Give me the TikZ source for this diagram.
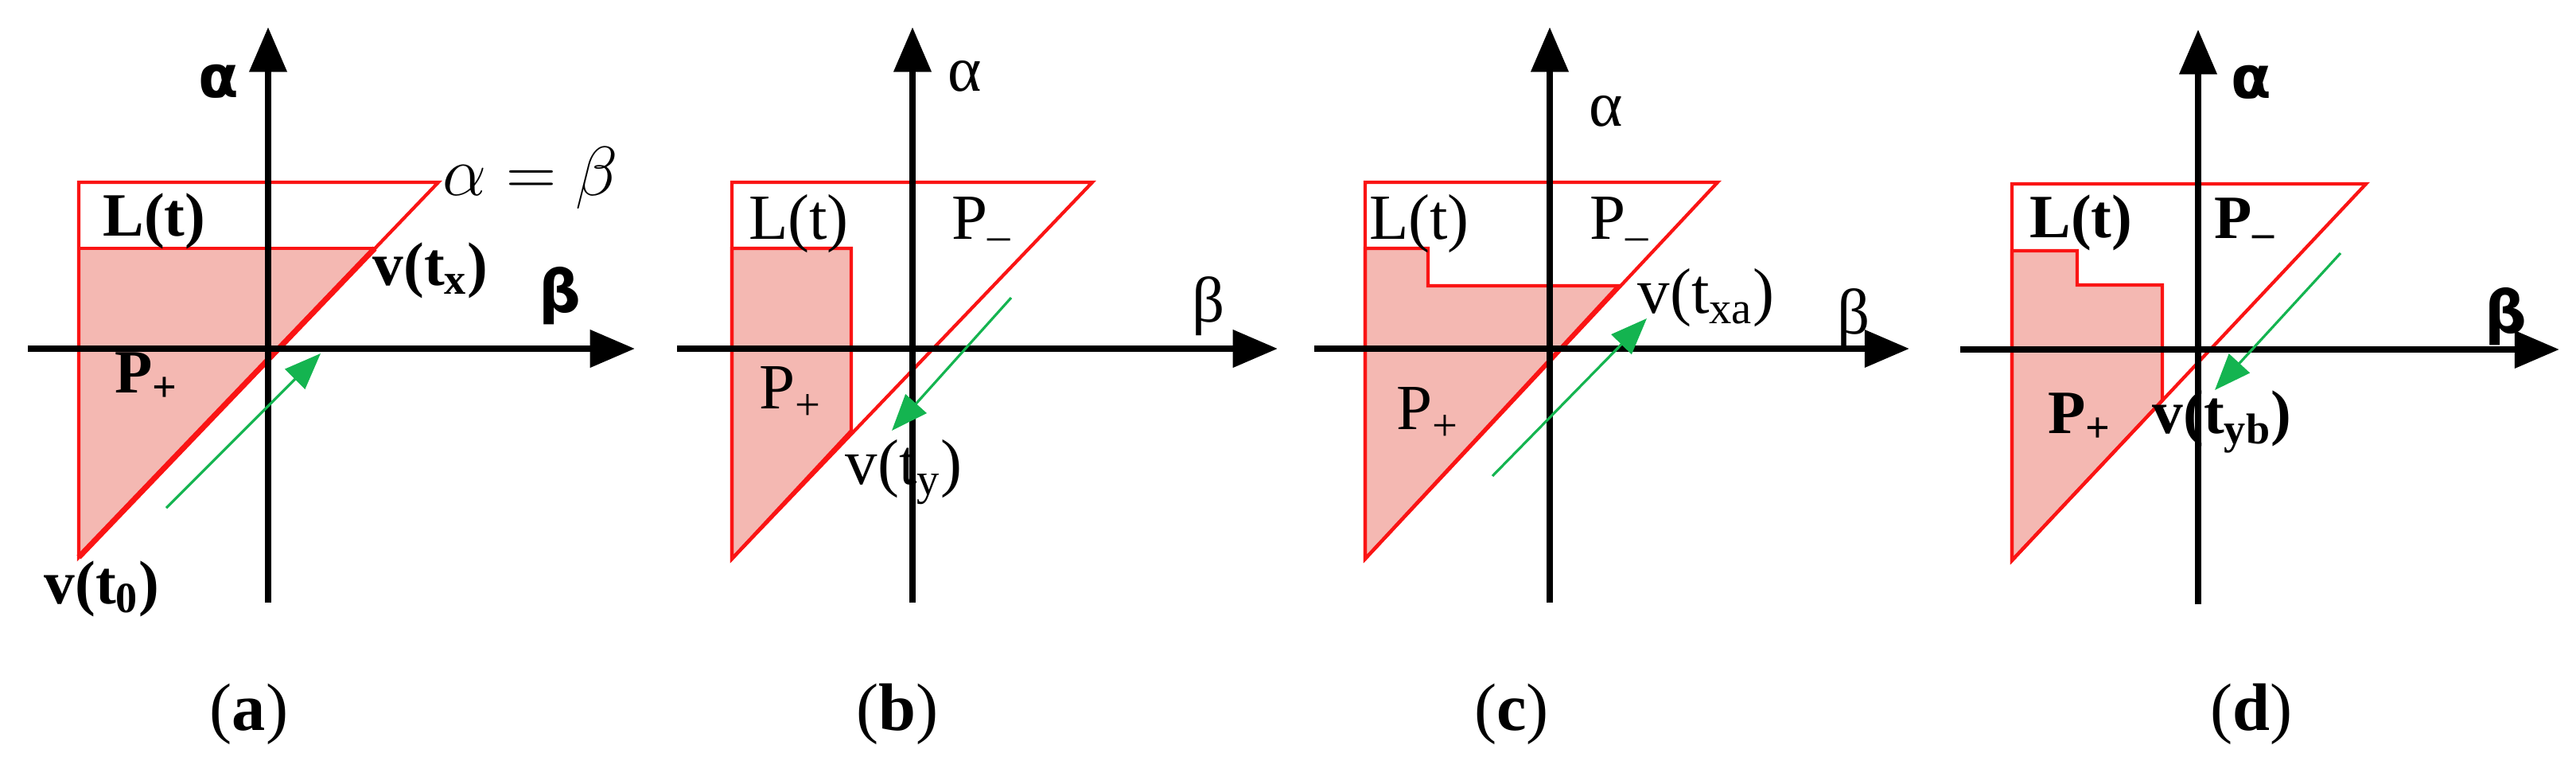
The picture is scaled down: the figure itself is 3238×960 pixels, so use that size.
\documentclass[tikz,border=0pt]{standalone}
\usepackage{fontspec}
\setmainfont{Liberation Serif}
\newfontfamily\greekf{DejaVu Sans}
\usetikzlibrary{arrows.meta}
\definecolor{pfill}{RGB}{244,184,178}
\definecolor{pred}{RGB}{250,20,20}
\definecolor{pgreen}{RGB}{20,180,80}
\tikzset{
  axis/.style={line width=2.3pt,-{Triangle[length=16pt,width=13pt]}},
  region/.style={draw=pred,line width=1.2pt,line join=miter},
  shaded/.style={fill=pfill,draw=pred,line width=1.2pt},
  move/.style={draw=pgreen,line width=0.9pt,-{Triangle[length=13pt,width=10pt]}},
  lab/.style={font=\fontsize{22}{24}\selectfont\bfseries,inner sep=0pt},
  labn/.style={font=\fontsize{23}{24}\selectfont,inner sep=0pt},
  glab/.style={font=\fontsize{21}{24}\selectfont\greekf\bfseries,inner sep=0pt},
  captext/.style={font=\fontsize{24}{26}\selectfont,inner sep=0pt}
}
\begin{document}
\begin{tikzpicture}[x=0.01cm,y=-0.01cm]
\useasboundingbox (0,0) rectangle (3238,960);
% ---------- (a)
\fill[pfill] (99,312) -- (471,312) -- (99,700) -- cycle;
\draw[region] (99,229) -- (551,229) -- (99,700) -- cycle;
\draw[region] (99,312) -- (471,312);
\draw[draw=pred,line width=2pt] (99,700) -- (471,312);
\coordinate (a0) at (35,438); \coordinate (a1) at (798,438);
\coordinate (a2) at (337,757); \coordinate (a3) at (337,34);
\draw[axis] (a0) -- (a1);
\draw[axis] (a2) -- (a3);
\coordinate (ga0) at (209,638); \coordinate (ga1) at (403,444);
\draw[move] (ga0) -- (ga1);
\node[glab] (aal) at (275,102) {α};
\node[font=\fontsize{24}{26}\selectfont,inner sep=0pt,anchor=west] (aeq) at (556,224) {$\alpha=\beta$};
\node[lab] (aL) at (194,278) {L(t)};
\node[lab,anchor=west] (avx) at (468,340) {v(t\textsubscript{x})};
\node[glab] (abe) at (704,372) {β};
\node[lab] (aP) at (184,474) {P\textsubscript{+}};
\node[lab] (av0) at (128,740) {v(t\textsubscript{0})};
\node[captext] (ca) at (313,897) {(\textbf{a})};
% ---------- (b)
\draw[shaded] (920,312) -- (1070,312) -- (1070,541) -- (920,702) -- cycle;
\draw[region] (920,229) -- (1373,229) -- (920,702) -- cycle;
\coordinate (b0) at (851,438); \coordinate (b1) at (1606,438);
\coordinate (b2) at (1147,757); \coordinate (b3) at (1147,34);
\draw[axis] (b0) -- (b1);
\draw[axis] (b2) -- (b3);
\coordinate (gb0) at (1271,374); \coordinate (gb1) at (1121,541);
\draw[move] (gb0) -- (gb1);
\node[labn] (bal) at (1213,96) {α};
\node[labn] (bL) at (1004,281) {L(t)};
\node[labn] (bPm) at (1234,281) {P\textsubscript{–}};
\node[labn] (bbe) at (1519,385) {β};
\node[labn] (bP) at (994,494) {P\textsubscript{+}};
\node[labn,anchor=west] (bvy) at (1062,593) {v(t\textsubscript{y})};
\node[captext] (cb) at (1128,897) {(\textbf{b})};
% ---------- (c)
\draw[shaded] (1716,312) -- (1795,312) -- (1795,359) -- (2034,359) -- (1716,702) -- cycle;
\draw[region] (1716,229) -- (2159,229) -- (1716,702) -- cycle;
\coordinate (c0) at (1652,438); \coordinate (c1) at (2400,438);
\coordinate (c2) at (1948,757); \coordinate (c3) at (1948,34);
\draw[axis] (c0) -- (c1);
\draw[axis] (c2) -- (c3);
\coordinate (gc0) at (1876,598); \coordinate (gc1) at (2070,400);
\draw[move] (gc0) -- (gc1);
\node[labn] (cal) at (2019,140) {α};
\node[labn] (cL) at (1784,281) {L(t)};
\node[labn] (cPm) at (2036,281) {P\textsubscript{–}};
\node[labn,anchor=west] (cvx) at (2058,374) {v(t\textsubscript{xa})};
\node[labn] (cbe) at (2330,400) {β};
\node[labn] (cP) at (1795,520) {P\textsubscript{+}};
\node[captext] (cc) at (1900,897) {(\textbf{c})};
% ---------- (d)
\draw[shaded] (2529,315) -- (2611,315) -- (2611,358) -- (2718,358) -- (2718,503) -- (2529,704) -- cycle;
\draw[region] (2529,231) -- (2974,231) -- (2529,704) -- cycle;
\coordinate (d0) at (2464,439); \coordinate (d1) at (3217,439);
\coordinate (d2) at (2763,759); \coordinate (d3) at (2763,37);
\draw[axis] (d0) -- (d1);
\draw[axis] (d2) -- (d3);
\coordinate (gd0) at (2942,318); \coordinate (gd1) at (2784,490);
\draw[move] (gd0) -- (gd1);
\node[glab] (dal) at (2830,103) {α};
\node[lab] (dL) at (2616,280) {L(t)};
\node[lab] (dPm) at (2822,280) {P\textsubscript{–}};
\node[glab] (dbe) at (3150,398) {β};
\node[lab] (dP) at (2614,525) {P\textsubscript{+}};
\node[lab,anchor=west] (dvy) at (2705,530) {v(t\textsubscript{yb})};
\node[captext] (cd) at (2830,897) {(\textbf{d})};
\end{tikzpicture}
\end{document}
